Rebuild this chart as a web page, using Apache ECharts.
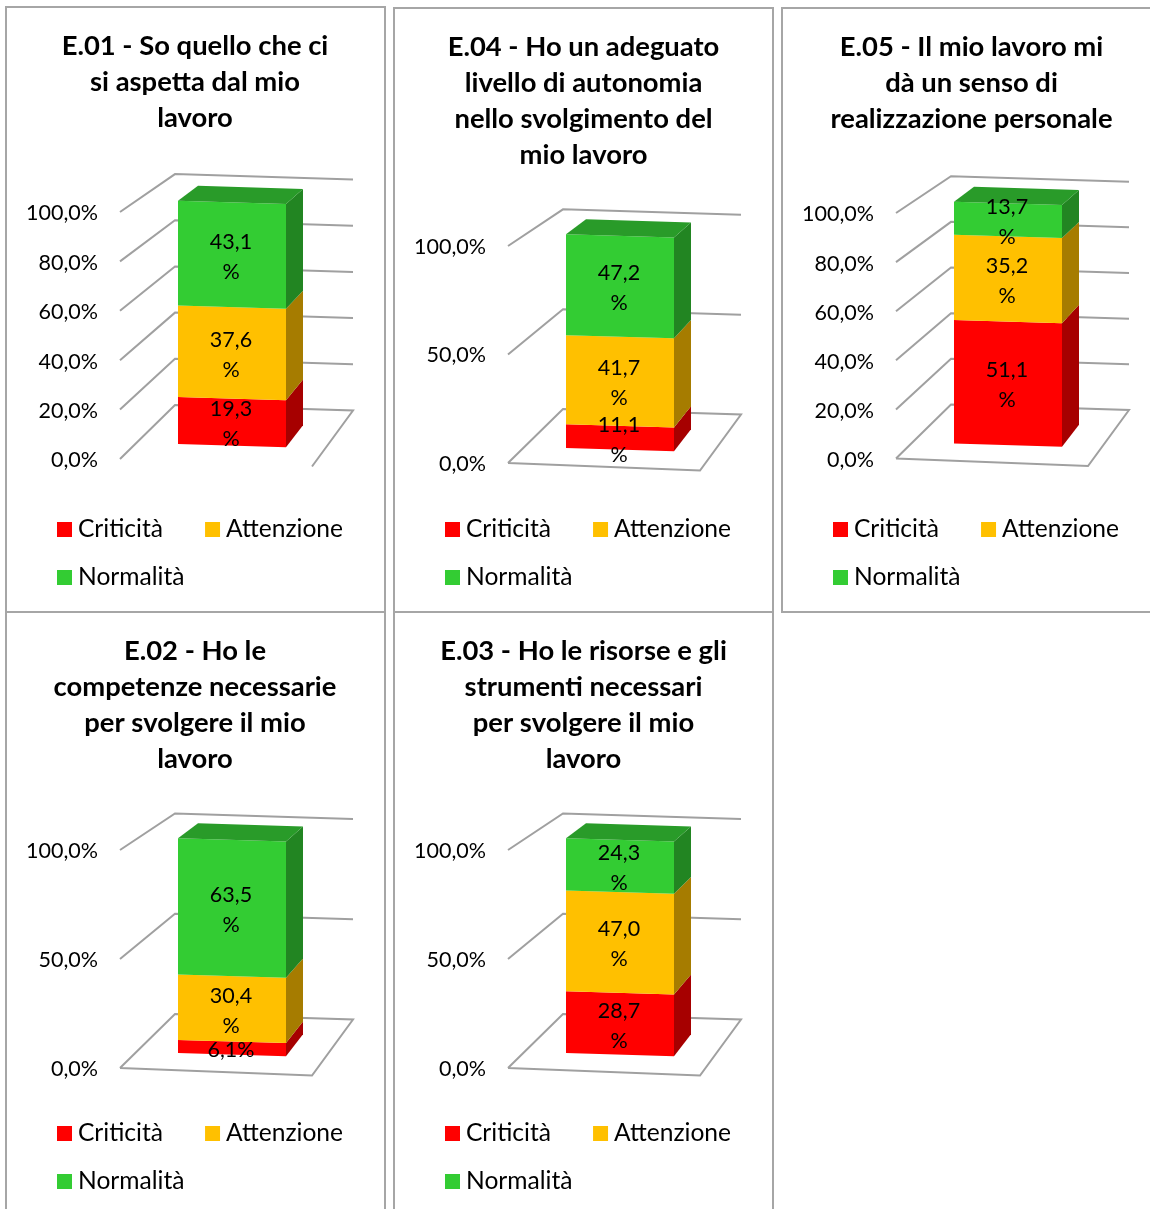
<!DOCTYPE html>
<html><head><meta charset="utf-8">
<style>html,body{margin:0;padding:0;background:#fff}#c{width:1150px;height:1209px}</style>
<script src="https://cdn.jsdelivr.net/npm/echarts@6/dist/echarts.min.js"></script>
</head><body><div id="c"></div>
<script>
const seriesNames = ['Criticità', 'Attenzione', 'Normalità'];
const seriesColors = ['#FF0000', '#FFC000', '#33CC33'];
const sideColors = ['#A60000', '#A67C00', '#228522'];
const topColor = '#299B29';

const titles = [
  'E.01 - So quello che ci\nsi aspetta dal mio\nlavoro',
  'E.04 - Ho un adeguato\nlivello di autonomia\nnello svolgimento del\nmio lavoro',
  'E.05 - Il mio lavoro mi\ndà un senso di\nrealizzazione personale',
  'E.02 - Ho le\ncompetenze necessarie\nper svolgere il mio\nlavoro',
  'E.03 - Ho le risorse e gli\nstrumenti necessari\nper svolgere il mio\nlavoro'
];
const valuesE01 = [19.3, 37.6, 43.1];
const valuesE04 = [11.1, 41.7, 47.2];
const valuesE05 = [51.1, 35.2, 13.7];
const valuesE02 = [6.1, 30.4, 63.5];
const valuesE03 = [28.7, 47.0, 24.3];
const panelValues = [valuesE01, valuesE04, valuesE05, valuesE02, valuesE03];
const ticks5 = [0, 20, 40, 60, 80, 100];
const ticks2 = [0, 50, 100];
const panelTicks = [ticks5, ticks2, ticks5, ticks2, ticks2];

// layout of each panel: frame, title centre, plot box, legend rows.
// lift: the axis labels sit this much lower than the drawn 3D walls.
const panels = [
  {fx:6,   fy:7,  fw:379, fh:605, cx:195, ty:28.5,  x0:120, top:212, bottom:459,  ly:517,  front:false, k:0.935, lift:1.5},
  {fx:394, fy:8,  fw:379, fh:604, cx:583.5, ty:29.5,  x0:508, top:246, bottom:463,  ly:517,  front:true, k:0.92, lift:1},
  {fx:782, fy:8,  fw:379, fh:604, cx:971.5, ty:29.5,  x0:896, top:213, bottom:458.5,  ly:517,  front:true, k:0.93, lift:1.5},
  {fx:6,   fy:612,fw:379, fh:610, cx:195, ty:633.5, x0:120, top:850, bottom:1068, ly:1121, front:true, k:0.92, lift:1},
  {fx:394, fy:612,fw:379, fh:610, cx:583.5, ty:633.5, x0:508, top:850, bottom:1068, ly:1121, front:true, k:0.92, lift:1}
];

const FONT = 'Lato, Carlito, Calibri, sans-serif';
const FS = 21.5;

function fmt(v) { return v.toFixed(1).replace('.', ','); }

const wallRender = (front, k, lift) => (params, api) => {
  const cs = params.coordSys;
  const v = api.value(1);
  const Y0 = cs.y + cs.height - lift;
  const Y = api.coord([0, v])[1] - lift;
  const rise = Y0 - Y;
  const bx = cs.x + 55, by = Y0 - 54 - rise * k;
  const rx = cs.x + 233, ry = by + 5.5;
  const pts = [[cs.x, Y], [bx, by], [rx, ry]];
  if (v === 0) {
    pts.push([cs.x + 192, Y0 + 7.5]);
    if (front) pts.push([cs.x, Y0]);
  }
  return {type: 'polyline', shape: {points: pts},
    style: {stroke: '#A0A0A0', lineWidth: 2, fill: null}, silent: true};
};

const barRender = (idx, lift) => (params, api) => {
  const cs = params.coordSys;
  const a = api.value(1), b = api.value(2);
  const Y0 = cs.y + cs.height - lift;
  const L = cs.x + 58, R = cs.x + 166, tilt = 3.2;
  const fy = v => Y0 - 15 - (Y0 - api.coord([0, v])[1] + lift) * 0.985;
  const dy = v => -22 + 0.07 * v;
  const children = [
    {type: 'polygon', shape: {points: [[L, fy(a)], [R, fy(a) + tilt], [R, fy(b) + tilt], [L, fy(b)]]},
      style: {fill: seriesColors[idx]}},
    {type: 'polygon', shape: {points: [[R, fy(a) + tilt], [R + 17, fy(a) + tilt + dy(a)], [R + 17, fy(b) + tilt + dy(b)], [R, fy(b) + tilt]]},
      style: {fill: sideColors[idx]}}
  ];
  if (b >= 99.9) children.push({type: 'polygon',
    shape: {points: [[L, fy(b)], [R, fy(b) + tilt], [R + 17, fy(b) + tilt + dy(b)], [L + 20, fy(b) + dy(b)]]},
    style: {fill: topColor}});
  const val = b - a;
  children.push({type: 'text', z2: 100, style: {
    text: fmt(val) + (val < 10 ? '%' : '\n%'),
    x: L + 53, y: (fy(a) + fy(b)) / 2 + 3.5, align: 'center', verticalAlign: 'middle',
    lineHeight: 30, fontSize: FS, fontFamily: FONT, fill: '#000'}});
  return {type: 'group', children, silent: true};
};

const option = {
  animation: false, backgroundColor: '#fff',
  title: [], grid: [], xAxis: [], yAxis: [], legend: [], series: [],
  graphic: panels.map(p => ({type: 'rect', z: -10, silent: true,
    shape: {x: p.fx, y: p.fy, width: p.fw, height: p.fh},
    style: {fill: '#fff', stroke: '#A6A6A6', lineWidth: 2}}))
};

panels.forEach((p, i) => {
  option.title.push({text: titles[i], left: p.cx, top: p.ty, textAlign: 'center', padding: 0,
    textStyle: {fontFamily: FONT, fontWeight: 'bold', fontSize: 27.4, lineHeight: 36, color: '#000'}});
  option.grid.push({left: p.x0, top: p.top + p.lift, width: 233, height: p.bottom - p.top, containLabel: false});
  option.xAxis.push({type: 'category', gridIndex: i, data: [titles[i]], show: false});
  option.yAxis.push({type: 'value', gridIndex: i, min: 0, max: 100, interval: panelTicks[i][1],
    axisLine: {show: false}, axisTick: {show: false}, splitLine: {show: false},
    axisLabel: {margin: 22, fontFamily: FONT, fontSize: FS, color: '#000', formatter: v => fmt(v) + '%'}});
  option.series.push({type: 'custom', xAxisIndex: i, yAxisIndex: i, z: 1, silent: true,
    renderItem: wallRender(p.front, p.k, p.lift), encode: {x: 0, y: 1}, clip: false,
    data: panelTicks[i].map(t => [0, t])});
  let cum = 0;
  panelValues[i].forEach((v, s) => {
    option.series.push({type: 'custom', name: seriesNames[s], xAxisIndex: i, yAxisIndex: i, z: 2, silent: true,
      itemStyle: {color: seriesColors[s]}, renderItem: barRender(s, p.lift), encode: {x: 0, y: [1, 2]}, clip: false,
      data: [[0, cum, cum + v]]});
    cum += v;
  });
  const lg = {orient: 'horizontal', padding: 0, itemWidth: 15, itemHeight: 15, icon: 'rect',
    itemStyle: {borderWidth: 0}, selectedMode: false,
    textStyle: {fontFamily: FONT, fontSize: 24.6, color: '#000', padding: [0, 0, 0, 1]}};
  option.legend.push(Object.assign({}, lg, {left: p.x0 - 63, top: p.ly, itemGap: 42, data: seriesNames.slice(0, 2)}));
  option.legend.push(Object.assign({}, lg, {left: p.x0 - 63, top: p.ly + 48, data: seriesNames.slice(2)}));
});

echarts.init(document.getElementById('c'), null, {renderer: 'canvas'}).setOption(option);
</script></body></html>
